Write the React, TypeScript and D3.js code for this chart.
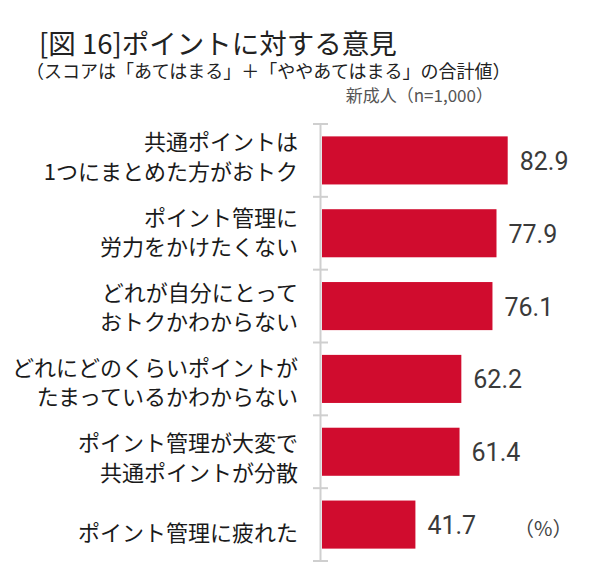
import React from "react";
import * as d3 from "d3";

const titleText = "[図 16]ポイントに対する意見";
const subtitleText = "（スコアは「あてはまる」＋「ややあてはまる」の合計値）";
const sampleText = "新成人（n=1,000）";
const unitText = "（%）";

const categories = [
  "共通ポイントは\n1つにまとめた方がおトク",
  "ポイント管理に\n労力をかけたくない",
  "どれが自分にとって\nおトクかわからない",
  "どれにどのくらいポイントが\nたまっているかわからない",
  "ポイント管理が大変で\n共通ポイントが分散",
  "ポイント管理に疲れた",
];
const values = [82.9, 77.9, 76.1, 62.2, 61.4, 41.7];

const W = 600;
const H = 585;
const CJK = "'Noto Sans CJK JP', 'Noto Sans', sans-serif";
const NUM = "Roboto, 'Liberation Sans', Arial, sans-serif";

export default function App() {
  const y = d3
    .scaleBand<string>()
    .domain(categories)
    .range([124, 561])
    .paddingInner(0.34)
    .paddingOuter(0.17);
  // labels in the reference sit on a slightly wider pitch than the bars
  const yLabel = d3.scaleBand<string>().domain(categories).range([117.5, 568.5]);
  const x = d3.scaleLinear().domain([0, 100]).range([322, 546]);
  const step = y.step();
  const top = 124;
  const boundaries = d3.range(categories.length + 1).map((i) => top + i * step);
  const axisX = 320.5;

  return (
    <svg
      width={W}
      height={H}
      style={{ position: "absolute", left: 0, top: 0, background: "#fff" }}
    >
      <rect x={0} y={0} width={W} height={H} fill="#fff" />
      <text x={39} y={42} fontFamily={CJK} fontSize={27.5} fill="#222" dominantBaseline="central">
        {titleText}
      </text>
      <text x={26} y={70} fontFamily={CJK} fontSize={18} fill="#222" dominantBaseline="central">
        {subtitleText}
      </text>
      <text x={493} y={94} fontFamily={CJK} fontSize={17} fill="#555" textAnchor="end" dominantBaseline="central">
        {sampleText}
      </text>

      {/* axis */}
      <line x1={axisX} x2={axisX} y1={boundaries[0]} y2={boundaries[boundaries.length - 1]} stroke="#cfcfcf" strokeWidth={2} />
      {boundaries.map((b, i) => (
        <line key={i} x1={313} x2={328} y1={b} y2={b} stroke="#cfcfcf" strokeWidth={2} />
      ))}

      {categories.map((c, i) => {
        const cy = (y(c) ?? 0) + y.bandwidth() / 2;
        const ly = (yLabel(c) ?? 0) + yLabel.bandwidth() / 2;
        const lines = c.split("\n");
        const lh = 29.5;
        return (
          <g key={c}>
            <rect x={x(0)} y={y(c)} width={x(values[i]) - x(0)} height={y.bandwidth()} fill="#d00c2e" />
            {lines.map((ln, j) => (
              <text
                key={j}
                x={298}
                y={ly + (j - (lines.length - 1) / 2) * lh}
                fontFamily={CJK}
                fontSize={22}
                fill="#1a1a1a"
                textAnchor="end"
                dominantBaseline="central"
              >
                {ln}
              </text>
            ))}
            <text
              x={x(values[i]) + 12}
              y={cy + 1}
              fontFamily={NUM}
              fontSize={25}
              fill="#3a3a3a"
              dominantBaseline="central"
            >
              {values[i].toFixed(1)}
            </text>
          </g>
        );
      })}
      <text x={514} y={527} fontFamily={CJK} fontSize={20} fill="#444" dominantBaseline="central">
        {unitText}
      </text>
    </svg>
  );
}
